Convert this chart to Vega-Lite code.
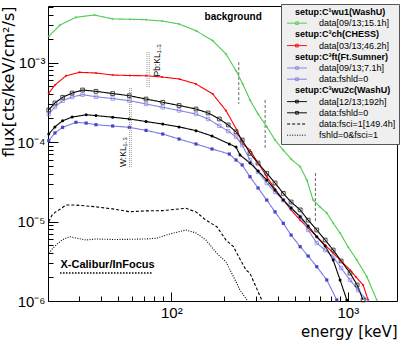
{
  "$schema": "https://vega.github.io/schema/vega-lite/v6.json",
  "width": 349,
  "height": 295,
  "autosize": {"type": "none"},
  "padding": {"left": 48, "top": 6, "right": 10, "bottom": 44},
  "background": "white",
  "config": {
    "view": {"stroke": "#000", "strokeWidth": 1},
    "axis": {"domain": false, "grid": false, "labelFont": "Liberation Sans", "titleFont": "DejaVu Sans", "labelFontSize": 15, "titleFontSize": 15, "titleFontWeight": "normal", "tickColor": "#000", "labelColor": "#000", "titleColor": "#000", "tickWidth": 1},
    "text": {"font": "Liberation Sans"}
  },
  "datasets": {
    "curves": [
      {"s":"g","e":20.2,"f":2.14e-3},{"s":"g","e":23.4,"f":2.96e-3},{"s":"g","e":28.8,"f":3.71e-3},{"s":"g","e":36.6,"f":3.96e-3},{"s":"g","e":46.5,"f":3.53e-3},{"s":"g","e":58.3,"f":3.5e-3},{"s":"g","e":71.9,"f":3.45e-3},{"s":"g","e":88.6,"f":3.33e-3},{"s":"g","e":110.6,"f":3.05e-3},{"s":"g","e":138,"f":2.51e-3},{"s":"g","e":171.7,"f":1.88e-3},{"s":"g","e":204,"f":1.28e-3},{"s":"g","e":232.6,"f":7.89e-4},{"s":"g","e":254,"f":5.37e-4},{"s":"g","e":279,"f":3.38e-4},{"s":"g","e":310,"f":2.25e-4},{"s":"g","e":347.5,"f":1.56e-4},{"s":"g","e":387,"f":1.06e-4},{"s":"g","e":430,"f":7.93e-5},{"s":"g","e":477,"f":6.11e-5},{"s":"g","e":537,"f":4.89e-5},{"s":"g","e":586,"f":3.33e-5},{"s":"g","e":636,"f":1.86e-5},{"s":"g","e":697,"f":1.52e-5},{"s":"g","e":760,"f":1.28e-5},{"s":"g","e":826,"f":9.57e-6},{"s":"g","e":904,"f":7.17e-6},{"s":"g","e":1004,"f":4.78e-6},{"s":"g","e":1125,"f":3.28e-6},{"s":"g","e":1282,"f":2.02e-6},{"s":"g","e":1459,"f":1.03e-6},
      {"s":"r","e":20.2,"f":4.10e-4},{"s":"r","e":21.9,"f":5.21e-4},{"s":"r","e":25.3,"f":6.82e-4},{"s":"r","e":30.1,"f":7.53e-4},{"s":"r","e":37.4,"f":7.38e-4},{"s":"r","e":46.5,"f":6.96e-4},{"s":"r","e":58.3,"f":6.86e-4},{"s":"r","e":71.9,"f":6.82e-4},{"s":"r","e":88.6,"f":6.57e-4},{"s":"r","e":111,"f":6.20e-4},{"s":"r","e":138,"f":5.37e-4},{"s":"r","e":171.7,"f":4.02e-4},{"s":"r","e":204,"f":2.48e-4},{"s":"r","e":235,"f":1.42e-4},{"s":"r","e":255,"f":9.44e-5},{"s":"r","e":279,"f":7.93e-5},{"s":"r","e":310,"f":5.44e-5},{"s":"r","e":347.5,"f":3.66e-5},{"s":"r","e":387,"f":2.56e-5},{"s":"r","e":431,"f":1.86e-5},{"s":"r","e":477,"f":1.40e-5},{"s":"r","e":537,"f":1.04e-5},{"s":"r","e":596,"f":8.28e-6},{"s":"r","e":667,"f":6.44e-6},{"s":"r","e":744,"f":5.06e-6},{"s":"r","e":826,"f":4.02e-6},{"s":"r","e":916,"f":3.19e-6},{"s":"r","e":1030,"f":2.45e-6},{"s":"r","e":1114,"f":2.00e-6},{"s":"r","e":1221,"f":1.59e-6},{"s":"r","e":1303,"f":1.03e-6},
      {"s":"b1","e":20.2,"f":2.25e-4},{"s":"b1","e":21.9,"f":2.76e-4},{"s":"b1","e":24.2,"f":3.31e-4},{"s":"b1","e":27.4,"f":3.68e-4},{"s":"b1","e":31.4,"f":3.94e-4},{"s":"b1","e":37.4,"f":3.71e-4},{"s":"b1","e":46.5,"f":3.52e-4},{"s":"b1","e":57.8,"f":3.31e-4},{"s":"b1","e":71.9,"f":3.01e-4},{"s":"b1","e":89.4,"f":2.73e-4},{"s":"b1","e":110.6,"f":2.49e-4},{"s":"b1","e":138,"f":2.25e-4},{"s":"b1","e":161.5,"f":1.95e-4},{"s":"b1","e":187,"f":1.60e-4},{"s":"b1","e":210,"f":1.37e-4},{"s":"b1","e":232.6,"f":1.16e-4},{"s":"b1","e":252,"f":9.16e-5},{"s":"b1","e":279,"f":5.94e-5},{"s":"b1","e":310,"f":4.20e-5},{"s":"b1","e":347.5,"f":3.05e-5},{"s":"b1","e":387,"f":2.35e-5},{"s":"b1","e":430,"f":1.86e-5},{"s":"b1","e":477,"f":1.48e-5},{"s":"b1","e":537,"f":1.15e-5},{"s":"b1","e":596,"f":7.82e-6},{"s":"b1","e":667,"f":5.37e-6},{"s":"b1","e":744,"f":4.38e-6},{"s":"b1","e":826,"f":3.61e-6},{"s":"b1","e":916,"f":2.60e-6},{"s":"b1","e":1030,"f":1.84e-6},{"s":"b1","e":1143,"f":1.37e-6},{"s":"b1","e":1282,"f":1.03e-6},
      {"s":"b0","e":20.2,"f":1.04e-4},{"s":"b0","e":21.9,"f":1.30e-4},{"s":"b0","e":24.2,"f":1.53e-4},{"s":"b0","e":28.8,"f":1.77e-4},{"s":"b0","e":32.9,"f":1.73e-4},{"s":"b0","e":37.4,"f":1.65e-4},{"s":"b0","e":46.5,"f":1.59e-4},{"s":"b0","e":57.8,"f":1.53e-4},{"s":"b0","e":71.9,"f":1.40e-4},{"s":"b0","e":89.4,"f":1.26e-4},{"s":"b0","e":110.6,"f":1.09e-4},{"s":"b0","e":138,"f":9.44e-5},{"s":"b0","e":170,"f":8.17e-5},{"s":"b0","e":213,"f":7.06e-5},{"s":"b0","e":232.6,"f":5.94e-5},{"s":"b0","e":252,"f":5.14e-5},{"s":"b0","e":279,"f":3.66e-5},{"s":"b0","e":310,"f":2.64e-5},{"s":"b0","e":347.5,"f":1.86e-5},{"s":"b0","e":387,"f":1.32e-5},{"s":"b0","e":431,"f":9.49e-6},{"s":"b0","e":477,"f":6.76e-6},{"s":"b0","e":537,"f":4.82e-6},{"s":"b0","e":596,"f":3.68e-6},{"s":"b0","e":667,"f":2.70e-6},{"s":"b0","e":760,"f":1.84e-6},{"s":"b0","e":866,"f":1.03e-6},
      {"s":"k1","e":20.2,"f":2.53e-4},{"s":"k1","e":21.9,"f":3.10e-4},{"s":"k1","e":24.2,"f":3.65e-4},{"s":"k1","e":27.4,"f":4.13e-4},{"s":"k1","e":31.4,"f":4.51e-4},{"s":"k1","e":37.4,"f":4.34e-4},{"s":"k1","e":46.5,"f":4.07e-4},{"s":"k1","e":57.8,"f":3.82e-4},{"s":"k1","e":71.9,"f":3.47e-4},{"s":"k1","e":89.4,"f":3.16e-4},{"s":"k1","e":110.6,"f":2.88e-4},{"s":"k1","e":138,"f":2.60e-4},{"s":"k1","e":161.5,"f":2.32e-4},{"s":"k1","e":187,"f":1.95e-4},{"s":"k1","e":210,"f":1.64e-4},{"s":"k1","e":232.6,"f":1.34e-4},{"s":"k1","e":252,"f":1.06e-4},{"s":"k1","e":279,"f":7.21e-5},{"s":"k1","e":310,"f":5.44e-5},{"s":"k1","e":347.5,"f":4.04e-5},{"s":"k1","e":387,"f":3.05e-5},{"s":"k1","e":431,"f":2.26e-5},{"s":"k1","e":477,"f":1.76e-5},{"s":"k1","e":537,"f":1.40e-5},{"s":"k1","e":596,"f":1.04e-5},{"s":"k1","e":667,"f":7.82e-6},{"s":"k1","e":744,"f":5.85e-6},{"s":"k1","e":826,"f":4.38e-6},{"s":"k1","e":916,"f":3.19e-6},{"s":"k1","e":1030,"f":2.25e-6},{"s":"k1","e":1129,"f":1.59e-6},{"s":"k1","e":1221,"f":1.03e-6},
      {"s":"k0","e":20.2,"f":1.26e-4},{"s":"k0","e":21.9,"f":1.55e-4},{"s":"k0","e":24.2,"f":1.85e-4},{"s":"k0","e":27.4,"f":2.06e-4},{"s":"k0","e":32.9,"f":2.20e-4},{"s":"k0","e":37.4,"f":2.15e-4},{"s":"k0","e":46.5,"f":2.05e-4},{"s":"k0","e":57.8,"f":1.95e-4},{"s":"k0","e":71.9,"f":1.81e-4},{"s":"k0","e":89.4,"f":1.68e-4},{"s":"k0","e":110.6,"f":1.55e-4},{"s":"k0","e":138,"f":1.39e-4},{"s":"k0","e":170,"f":1.19e-4},{"s":"k0","e":213,"f":9.44e-5},{"s":"k0","e":232.6,"f":8.65e-5},{"s":"k0","e":245,"f":6.86e-5},{"s":"k0","e":279,"f":5.44e-5},{"s":"k0","e":310,"f":4.32e-5},{"s":"k0","e":347.5,"f":3.33e-5},{"s":"k0","e":387,"f":2.49e-5},{"s":"k0","e":431,"f":1.86e-5},{"s":"k0","e":477,"f":1.48e-5},{"s":"k0","e":537,"f":1.15e-5},{"s":"k0","e":596,"f":8.78e-6},{"s":"k0","e":667,"f":6.44e-6},{"s":"k0","e":744,"f":4.92e-6},{"s":"k0","e":826,"f":3.28e-6},{"s":"k0","e":904,"f":1.84e-6},{"s":"k0","e":987,"f":1.03e-6},
      {"s":"kd","e":20.2,"f":9.93e-6},{"s":"kd","e":21.1,"f":1.21e-5},{"s":"kd","e":22.2,"f":1.33e-5},{"s":"kd","e":24.0,"f":1.48e-5},{"s":"kd","e":25.3,"f":1.61e-5},{"s":"kd","e":28.8,"f":1.61e-5},{"s":"kd","e":32.9,"f":1.57e-5},{"s":"kd","e":37.4,"f":1.53e-5},{"s":"kd","e":46.5,"f":1.44e-5},{"s":"kd","e":57.8,"f":1.33e-5},{"s":"kd","e":71.9,"f":1.36e-5},{"s":"kd","e":89.4,"f":1.37e-5},{"s":"kd","e":105,"f":1.42e-5},{"s":"kd","e":121,"f":1.47e-5},{"s":"kd","e":138,"f":1.32e-5},{"s":"kd","e":157,"f":1.04e-5},{"s":"kd","e":181,"f":8.60e-6},{"s":"kd","e":204,"f":5.85e-6},{"s":"kd","e":225,"f":4.82e-6},{"s":"kd","e":243,"f":3.47e-6},{"s":"kd","e":265,"f":2.45e-6},{"s":"kd","e":279,"f":2.23e-6},{"s":"kd","e":302,"f":1.50e-6},{"s":"kd","e":325,"f":1.03e-6},
      {"s":"kt","e":20.2,"f":3.98e-6},{"s":"kt","e":21.1,"f":4.51e-6},{"s":"kt","e":22.2,"f":5.06e-6},{"s":"kt","e":24.0,"f":5.85e-6},{"s":"kt","e":26.4,"f":6.44e-6},{"s":"kt","e":28.8,"f":6.20e-6},{"s":"kt","e":32.9,"f":5.85e-6},{"s":"kt","e":37.4,"f":6.03e-6},{"s":"kt","e":46.5,"f":5.94e-6},{"s":"kt","e":57.8,"f":5.97e-6},{"s":"kt","e":71.9,"f":6.03e-6},{"s":"kt","e":81.9,"f":6.15e-6},{"s":"kt","e":98.3,"f":6.97e-6},{"s":"kt","e":121,"f":7.82e-6},{"s":"kt","e":138,"f":7.17e-6},{"s":"kt","e":157,"f":5.85e-6},{"s":"kt","e":181,"f":3.98e-6},{"s":"kt","e":204,"f":3.10e-6},{"s":"kt","e":225,"f":2.02e-6},{"s":"kt","e":245,"f":1.37e-6},{"s":"kt","e":268,"f":1.03e-6}
    ],
    "vlines": [
      {"e": 241, "f": 1.01e-3, "f2": 3.01e-4},
      {"e": 340, "f": 3.38e-4, "f2": 7.93e-5},
      {"e": 655, "f": 4.07e-5, "f2": 9.57e-6}
    ],
    "klines": [
      {"e": 57.98, "f": 4.77e-4, "f2": 4.85e-5},
      {"e": 59.32, "f": 4.77e-4, "f2": 4.85e-5},
      {"e": 72.80, "f": 1.36e-3, "f2": 4.92e-4},
      {"e": 74.97, "f": 1.36e-3, "f2": 4.92e-4}
    ],
    "hline": [
      {"e": 23.4, "e2": 78.8, "f": 2.25e-6}
    ],
    "notes": [
      {"t": "background", "e": 224, "f": 3.73e-3},
      {"t": "X-Calibur/InFocus", "e": 43.5, "f": 2.84e-6}
    ],
    "knotes": [
      {"t": "W:KL₁₋₃", "e": 53.4, "f": 7.48e-5},
      {"t": "Pb:KL₁₋₃", "e": 82.6, "f": 1.07e-3}
    ]
  },
  "layer": [
    {
      "encoding": {
        "x": {"field": "e", "type": "quantitative", "scale": {"type": "log", "domain": [20, 1900], "nice": false},
              "axis": {"orient": "bottom", "values": [100, 1000], "labelExpr": "datum.value < 500 ? '10²' : '10³'", "tickSize": -9, "labelPadding": 13, "labelFlush": false, "labelOverlap": false, "title": "energy [keV]", "titleAnchor": "end", "titlePadding": 4}},
        "y": {"field": "f", "type": "quantitative", "scale": {"type": "log", "domain": [1e-6, 0.00514], "nice": false},
              "axis": {"orient": "left", "values": [1e-6, 1e-5, 1e-4, 1e-3], "labelExpr": "datum.value < 5e-6 ? '10⁻⁶' : datum.value < 5e-5 ? '10⁻⁵' : datum.value < 5e-4 ? '10⁻⁴' : '10⁻³'", "tickSize": -10, "labelPadding": 13, "labelFlush": false, "labelOverlap": false, "title": "flux[cts/keV/cm²/s]", "titleFontSize": 16, "titleAnchor": "end", "titlePadding": 0}}
      },
      "layer": [
        {
          "data": {"name": "vlines"},
          "mark": {"type": "rule", "color": "#666", "strokeDash": [3, 2], "strokeWidth": 1},
          "encoding": {"y2": {"field": "f2"}}
        },
        {
          "data": {"name": "curves"},
          "mark": {"type": "line", "strokeWidth": 1.1},
          "encoding": {
            "color": {"field": "s", "type": "nominal",
              "scale": {"domain": ["h1","g","h2","r","h3","b1","b0","h4","k1","k0","kd","kt"],
                        "range": ["transparent","#4dcc4d","transparent","#ff0000","transparent","#8484e4","#7a7ae0","transparent","#000000","#000000","#000000","#000000"]},
              "legend": {"title": null, "orient": "top-right", "offset": -2, "fillColor": "#efefef", "strokeColor": "#555", "padding": 3, "cornerRadius": 0,
                "labelFont": "Liberation Sans", "labelFontSize": 9, "labelColor": "#000",
                "symbolType": "M-2.2,0H2.2M-0.3,-0.3H0.3V0.3H-0.3Z", "symbolSize": 81, "symbolStrokeWidth": 1, "rowPadding": 1.2, "symbolOffset": 8, "labelOffset": 17,
                "labelExpr": "{'h1':'setup:C¹wu1(WashU)','g':'data[09/13;15.1h]','h2':'setup:C³ch(CHESS)','r':'data[03/13;46.2h]','h3':'setup:C³ft(Ft.Sumner)','b1':'data[09/13;7.1h]','b0':'data:fshld=0','h4':'setup:C³wu2c(WashU)','k1':'data[12/13;192h]','k0':'data:fshld=0','kd':'data:fsci=1[149.4h]','kt':'fshld=0&fsci=1'}[datum.value]",
                "encoding": {
                  "labels": {
                    "fontWeight": {"condition": {"test": "indexof(['h1','h2','h3','h4'], datum.value) >= 0", "value": "bold"}, "value": "normal"},
                    "dx": {"condition": {"test": "indexof(['h1','h2','h3','h4'], datum.value) >= 0", "value": -24}, "value": 0}
                  },
                  "symbols": {
                    "shape": {"condition": {"test": "indexof(['kd','kt'], datum.value) >= 0", "value": "M-2.2,0H2.2"}, "value": "M-2.2,0H2.2M-0.3,-0.3H0.3V0.3H-0.3Z"}
                  }
                }}},
            "strokeDash": {"field": "s", "type": "nominal",
              "scale": {"domain": ["h1","g","h2","r","h3","b1","b0","h4","k1","k0","kd","kt"],
                        "range": [[1,0],[1,0],[1,0],[1,0],[1,0],[1,0],[1,0],[1,0],[1,0],[1,0],[3,2],[1,1.5]]},
              "legend": {"title": null, "orient": "top-right", "offset": -2, "fillColor": "#efefef", "strokeColor": "#555", "padding": 3, "cornerRadius": 0,
                "labelFont": "Liberation Sans", "labelFontSize": 9, "labelColor": "#000",
                "symbolType": "M-2.2,0H2.2M-0.3,-0.3H0.3V0.3H-0.3Z", "symbolSize": 81, "symbolStrokeWidth": 1, "rowPadding": 1.2, "symbolOffset": 8, "labelOffset": 17,
                "labelExpr": "{'h1':'setup:C¹wu1(WashU)','g':'data[09/13;15.1h]','h2':'setup:C³ch(CHESS)','r':'data[03/13;46.2h]','h3':'setup:C³ft(Ft.Sumner)','b1':'data[09/13;7.1h]','b0':'data:fshld=0','h4':'setup:C³wu2c(WashU)','k1':'data[12/13;192h]','k0':'data:fshld=0','kd':'data:fsci=1[149.4h]','kt':'fshld=0&fsci=1'}[datum.value]",
                "encoding": {
                  "labels": {
                    "fontWeight": {"condition": {"test": "indexof(['h1','h2','h3','h4'], datum.value) >= 0", "value": "bold"}, "value": "normal"},
                    "dx": {"condition": {"test": "indexof(['h1','h2','h3','h4'], datum.value) >= 0", "value": -24}, "value": 0}
                  },
                  "symbols": {
                    "shape": {"condition": {"test": "indexof(['kd','kt'], datum.value) >= 0", "value": "M-2.2,0H2.2"}, "value": "M-2.2,0H2.2M-0.3,-0.3H0.3V0.3H-0.3Z"}
                  }
                }}}
          }
        },
        {
          "data": {"name": "curves"},
          "transform": [{"filter": "datum.s == 'g'"}],
          "mark": {"type": "point", "shape": "cross", "filled": true, "size": 6, "color": "#4dcc4d"}
        },
        {
          "data": {"name": "curves"},
          "transform": [{"filter": "datum.s == 'r'"}],
          "mark": {"type": "point", "shape": "square", "filled": true, "size": 4, "color": "#ff0000"}
        },
        {
          "data": {"name": "curves"},
          "transform": [{"filter": "datum.s == 'b1'"}],
          "mark": {"type": "point", "shape": "square", "filled": false, "size": 12, "strokeWidth": 0.9, "color": "#6f6fd8"}
        },
        {
          "data": {"name": "curves"},
          "transform": [{"filter": "datum.s == 'b0'"}],
          "mark": {"type": "point", "shape": "square", "filled": true, "size": 10, "color": "#4444c4", "opacity": 1}
        },
        {
          "data": {"name": "curves"},
          "transform": [{"filter": "datum.s == 'k1'"}],
          "mark": {"type": "point", "shape": "square", "filled": false, "size": 14, "strokeWidth": 0.9, "color": "#333", "opacity": 1}
        },
        {
          "data": {"name": "curves"},
          "transform": [{"filter": "datum.s == 'k0'"}],
          "mark": {"type": "point", "shape": "circle", "filled": true, "size": 9, "color": "#000", "opacity": 1}
        },
        {
          "data": {"name": "hline"},
          "mark": {"type": "rule", "color": "#000", "strokeDash": [1.5, 1.5], "strokeWidth": 1.5},
          "encoding": {"x2": {"field": "e2"}}
        },
        {
          "data": {"name": "notes"},
          "transform": [{"filter": "datum.t == 'background'"}],
          "mark": {"type": "text", "fontWeight": "bold", "fontSize": 10, "align": "center", "baseline": "middle", "color": "#000"},
          "encoding": {"text": {"field": "t"}}
        },
        {
          "data": {"name": "notes"},
          "transform": [{"filter": "datum.t != 'background'"}],
          "mark": {"type": "text", "fontWeight": "bold", "fontSize": 11, "align": "center", "baseline": "middle", "color": "#000"},
          "encoding": {"text": {"field": "t"}}
        },
        {
          "data": {"name": "knotes"},
          "mark": {"type": "text", "fontSize": 8.5, "angle": 270, "align": "center", "baseline": "middle", "color": "#000"},
          "encoding": {"text": {"field": "t"}}
        }
      ]
    },
    {
      "data": {"name": "klines"},
      "mark": {"type": "rule", "color": "#999", "strokeDash": [1, 1], "strokeWidth": 1},
      "encoding": {
        "x": {"field": "e", "type": "quantitative", "scale": {"type": "log", "domain": [20, 1900], "nice": false},
              "axis": {"orient": "bottom", "values": [30,40,50,60,70,80,90,200,300,400,500,600,700,800,900], "tickSize": -5, "labels": false, "title": null, "domain": false}},
        "y": {"field": "f", "type": "quantitative", "scale": {"type": "log", "domain": [1e-6, 0.00514], "nice": false},
              "axis": {"orient": "left", "values": [2e-6,3e-6,4e-6,5e-6,6e-6,7e-6,8e-6,9e-6,2e-5,3e-5,4e-5,5e-5,6e-5,7e-5,8e-5,9e-5,2e-4,3e-4,4e-4,5e-4,6e-4,7e-4,8e-4,9e-4,2e-3,3e-3,4e-3,5e-3], "tickSize": -5, "labels": false, "title": null, "domain": false}},
        "y2": {"field": "f2"}
      }
    }
  ],
  "resolve": {"axis": {"x": "independent", "y": "independent"}}
}
